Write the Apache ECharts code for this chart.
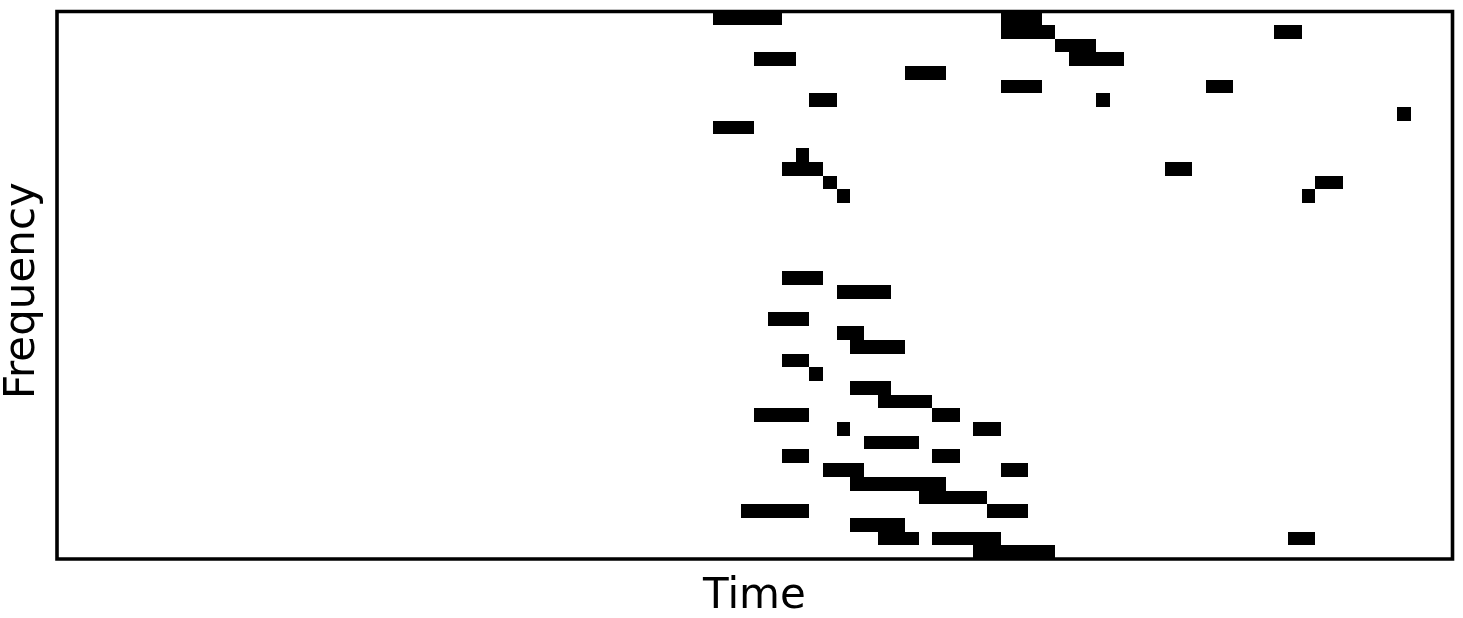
<!DOCTYPE html>
<html>
<head>
<meta charset="utf-8">
<style>
  html, body { margin: 0; padding: 0; background: #fff; }
  #chart { width: 1463px; height: 618px; }
</style>
<script src="https://cdn.jsdelivr.net/npm/echarts@6/dist/echarts.min.js"></script>
</head>
<body>
<div id="chart"></div>
<script>
// piano roll, one entry per note. row 0 is the top row of the plot
const noteRows = [0, 0, 1, 1, 2, 3, 3, 4, 5, 5, 6, 6, 7, 8, 10, 11, 11, 12, 12, 13, 13, 19, 20, 22, 23, 24, 25, 26, 27, 28, 29, 29, 30, 30, 31, 32, 32, 33, 33, 34, 35, 36, 36, 37, 38, 38, 38, 39];
const noteStarts = [48, 69, 69, 89, 73, 51, 74, 62, 69, 84, 55, 76, 98, 48, 54, 53, 81, 56, 92, 57, 91, 53, 57, 52, 57, 58, 53, 55, 58, 60, 51, 64, 57, 67, 59, 53, 64, 56, 69, 58, 63, 50, 68, 58, 60, 64, 90, 67];
const noteEnds = [53, 72, 73, 91, 76, 54, 78, 65, 72, 86, 57, 77, 99, 51, 55, 56, 83, 57, 94, 58, 92, 56, 61, 55, 59, 62, 55, 56, 61, 64, 55, 66, 58, 69, 63, 55, 66, 59, 71, 65, 68, 55, 71, 62, 63, 69, 92, 73];
const rowCount = 40;
const colCount = 102;

const chart = echarts.init(document.getElementById('chart'));

const renderItem = (params, api) => {
  const start = api.coord([api.value(0), api.value(2)]);
  const end = api.coord([api.value(1), api.value(2) + 1]);
  // snap to whole pixels, the reference cells have hard edges
  const x = Math.round(start[0]);
  const y = Math.round(start[1]);
  return {
    type: 'rect',
    shape: { x, y, width: Math.round(end[0]) - x, height: Math.round(end[1]) - y },
    style: { fill: '#000' },
  };
};

chart.setOption({
  animation: false,
  grid: { left: 56.8, right: 10.84, top: 11.2, bottom: 59, show: false, outerBoundsMode: 'none' },
  xAxis: {
    type: 'value',
    min: 0,
    max: colCount,
    name: 'Time',
    nameLocation: 'middle',
    nameGap: 17,
    nameTextStyle: { fontFamily: 'DejaVu Sans', fontSize: 42, color: '#000' },
    axisLine: { show: false },
    axisTick: { show: false },
    axisLabel: { show: false },
    splitLine: { show: false },
  },
  yAxis: {
    type: 'value',
    inverse: true,
    min: 0,
    max: rowCount,
    name: 'Frequency',
    nameLocation: 'middle',
    nameGap: 13,
    nameTextStyle: { fontFamily: 'DejaVu Sans', fontSize: 42, color: '#000', padding: [0, 11, 0, 0] },
    axisLine: { show: false },
    axisTick: { show: false },
    axisLabel: { show: false },
    splitLine: { show: false },
  },
  series: [
    {
      type: 'custom',
      renderItem,
      clip: true,
      encode: { x: [0, 1], y: 2 },
      data: noteRows.map((row, i) => [noteStarts[i], noteEnds[i], row]),
      silent: true,
    },
  ],
  graphic: [
    {
      type: 'rect',
      silent: true,
      z: 100,
      shape: { x: 57, y: 11.5, width: 1395.5, height: 547.5 },
      style: { fill: 'none', stroke: '#000', lineWidth: 3.6 },
    },
  ],
});
</script>
</body>
</html>
